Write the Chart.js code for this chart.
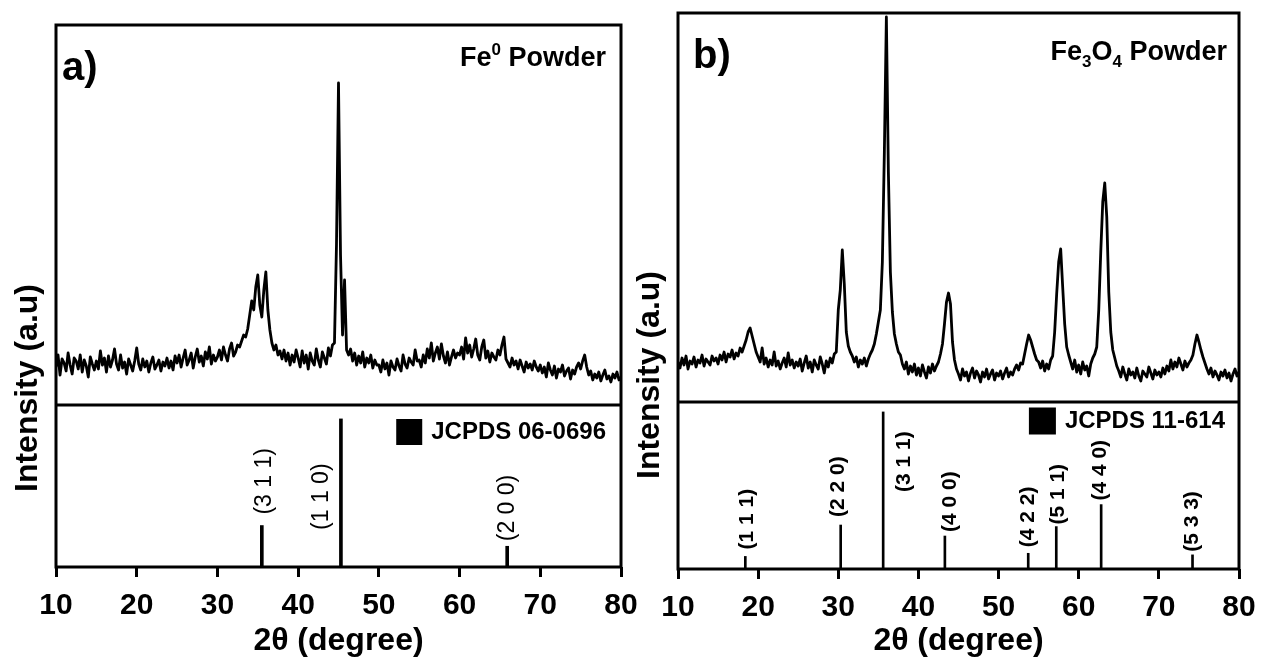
<!DOCTYPE html>
<html>
<head>
<meta charset="utf-8">
<title>XRD Fe0 and Fe3O4 powders</title>
<script src="https://cdn.jsdelivr.net/npm/chart.js@4.4.0/dist/chart.umd.min.js"></script>
<style>
  html, body { margin: 0; padding: 0; background: #fff; }
  body { width: 1262px; height: 657px; position: relative; overflow: hidden; }
  canvas { position: absolute; top: 0; }
  #chartA { left: 0; }
  #chartB { left: 620px; }
</style>
</head>
<body>
<canvas id="chartA" width="660" height="657"></canvas>
<canvas id="chartB" width="660" height="657"></canvas>
<script>
/* scan grid: 2theta from 10 to 80 deg, one reading every 0.25 deg */
let scanStart = 10
let scanStep = 0.25

let intensityFe = [
    38, 50, 30, 46, 42, 34, 52, 40, 31, 47, 44, 36, 50, 33, 45, 39, 28, 48, 41, 35,
    44, 36, 54, 40, 47, 33, 49, 38, 45, 56, 41, 35, 50, 37, 43, 31, 46, 40, 34, 44,
    57, 41, 35, 46, 38, 44, 33, 42, 48, 36, 40, 45, 34, 43, 39, 47, 37, 44, 35, 49,
    42, 50, 38, 47, 55, 40, 45, 52, 37, 48, 56, 43, 49, 39, 53, 46, 58, 41, 50, 44,
    48, 55, 45, 58, 50, 44, 56, 62, 49, 53, 60, 58, 64, 70, 68, 76, 90, 104, 95, 118,
    130, 100, 88, 115, 133, 95, 75, 62, 55, 60, 50, 54, 46, 55, 44, 52, 40, 50, 43, 55,
    47, 38, 54, 42, 50, 36, 52, 44, 40, 56, 45, 38, 53, 47, 41, 57, 49, 60, 62, 160,
    322, 150, 70, 125, 55, 50, 56, 44, 52, 40, 49, 42, 53, 38, 47, 42, 50, 37, 45, 40,
    40, 33, 45, 36, 42, 30, 44, 38, 35, 46, 39, 34, 50, 41, 37, 47, 43, 40, 55, 44,
    45, 38, 50, 42, 56, 47, 62, 44, 52, 58, 46, 61, 49, 42, 53, 40, 48, 55, 47, 52,
    50, 58, 46, 67, 52, 60, 48, 56, 66, 50, 45, 58, 65, 47, 54, 43, 52, 48, 45, 55,
    50, 60, 68, 46, 42, 38, 47, 40, 44, 36, 45, 39, 33, 43, 37, 41, 35, 44, 38, 34,
    40, 32, 38, 28, 42, 35, 30, 39, 27, 36, 33, 40, 29, 34, 37, 26, 35, 31, 38, 42,
    36, 44, 50, 38, 30, 34, 25, 31, 27, 33, 24, 30, 35, 26, 29, 23, 31, 27, 33, 25,
    28
]

/* measured pattern, Fe3O4 powder (a.u) */
let intensityMag = [
    40, 34, 44, 37, 46, 33, 41, 38, 45, 35, 42, 39, 47, 36, 43, 40, 37, 46, 41, 44,
    38, 47, 42, 50, 40, 48, 45, 52, 43, 49, 46, 54, 50, 56, 62, 70, 74, 66, 58, 50,
    45, 40, 54, 38, 44, 35, 42, 37, 50, 36, 41, 33, 39, 44, 35, 49, 37, 42, 34, 40,
    36, 43, 31, 39, 46, 34, 40, 30, 42, 37, 33, 45, 38, 29, 41, 35, 44, 39, 48, 50,
    92, 112, 152, 118, 70, 56, 50, 46, 40, 45, 35, 42, 38, 44, 36, 43, 48, 52, 58, 68,
    80, 92, 140, 250, 385, 230, 130, 90, 68, 58, 50, 47, 38, 33, 40, 28, 36, 30, 38, 27,
    34, 26, 37, 30, 24, 35, 29, 38, 31, 36, 40, 48, 58, 78, 100, 109, 98, 60, 42, 33,
    28, 22, 33, 26, 30, 21, 29, 34, 24, 31, 27, 20, 30, 25, 33, 23, 28, 32, 22, 29,
    26, 31, 23, 29, 34, 25, 30, 27, 33, 37, 32, 39, 38, 48, 58, 67, 62, 55, 48, 42,
    40, 34, 41, 31, 38, 33, 42, 46, 70, 108, 140, 153, 115, 78, 55, 47, 40, 33, 42, 30,
    37, 28, 40, 32, 36, 26, 38, 44, 48, 55, 92, 150, 200, 219, 185, 110, 70, 52, 44, 36,
    31, 25, 35, 28, 22, 33, 27, 30, 24, 34, 26, 21, 31, 28, 25, 35, 29, 23, 32, 27,
    30, 25, 34, 28, 36, 31, 42, 33, 40, 35, 44, 38, 32, 41, 35, 39, 42, 47, 58, 67,
    60, 52, 45, 39, 33, 28, 34, 25, 31, 27, 22, 30, 26, 32, 24, 29, 21, 28, 33, 26,
    30
]

/* reference cards */
let refPosFe = [35.5, 45.3, 65.9]
let refIntFe = [28, 100, 14]
let refHklFe = ['(3 1 1)', '(1 1 0)', '(2 0 0)']

let refPosMag = [18.4, 30.3, 35.6, 43.3, 53.7, 57.2, 62.8, 74.2]
let refIntMag = [8, 28, 100, 21, 10, 27, 41, 9]
let refHklMag = ['(1 1 1)', '(2 2 0)', '(3 1 1)', '(4 0 0)', '(4 2 2)', '(5 1 1)', '(4 4 0)', '(5 3 3)']

let xTicks = [10, 20, 30, 40, 50, 60, 70, 80]

let FONT = "'Liberation Sans', Arial, Helvetica, sans-serif"
Chart.defaults.font.family = FONT
Chart.defaults.color = '#000'


function toPoints(values) {
    return values.map((v, i) => ({ x: scanStart + i * scanStep, y: v }))
}

// title with sub / superscripts, drawn right aligned
function drawRich(ctx, parts, xRight, baseline) {
    let widths = parts.map(p => {
        ctx.font = 'bold ' + (p[1] ? 17 : 27) + 'px ' + FONT
        return ctx.measureText(p[0]).width
    })
    let x = xRight - widths.reduce((a, b) => a + b, 0)
    parts.forEach((p, i) => {
        ctx.font = 'bold ' + (p[1] ? 17 : 27) + 'px ' + FONT
        let dy = p[1] === 'sup' ? -11 : (p[1] === 'sub' ? 7 : 0)
        ctx.fillText(p[0], x, baseline + dy)
        x += widths[i]
    })
}

let decorPlugin = {
    id: 'decor',
    afterDraw(chart, args, o) {
        let ctx = chart.ctx
        let area = chart.chartArea
        let xs = chart.scales.x
        let yRef = chart.scales.yRef
        let divY = chart.scales.yTop.getPixelForValue(0)

        ctx.save()
        ctx.fillStyle = '#000'
        ctx.strokeStyle = '#000'

        // frame and divider
        ctx.lineWidth = 3
        ctx.strokeRect(area.left, area.top, area.right - area.left, area.bottom - area.top)
        ctx.beginPath()
        ctx.moveTo(area.left, divY)
        ctx.lineTo(area.right, divY)
        ctx.stroke()

        // panel letter
        ctx.textAlign = 'left'
        ctx.textBaseline = 'alphabetic'
        ctx.font = 'bold 40px ' + FONT
        ctx.fillText(o.letter, area.left + o.letterDx, area.top + 55)

        // sample name
        drawRich(ctx, o.title, area.right - o.titleDx, area.top + o.titleDy)

        // card legend
        ctx.font = 'bold 24px ' + FONT
        let lw = ctx.measureText(o.legend).width
        let lx = area.right - o.legendDx - lw
        let ly = divY + o.legendDy
        ctx.textBaseline = 'middle'
        ctx.fillText(o.legend, lx, ly)
        ctx.fillRect(lx - 9 - o.box, ly - o.box / 2, o.box, o.box)

        // hkl labels above the sticks
        ctx.font = o.hklFont + FONT
        ctx.textAlign = 'left'
        ctx.textBaseline = 'middle'
        o.hkl.forEach((label, i) => {
            let px = xs.getPixelForValue(o.pos[i]) + o.offsets[i][0]
            let py = yRef.getPixelForValue(o.ints[i]) - o.offsets[i][1]
            ctx.save()
            ctx.translate(px, py)
            ctx.rotate(-Math.PI / 2)
            ctx.fillText(label, 0, 0)
            ctx.restore()
        })

        // y axis title
        ctx.font = 'bold 32px ' + FONT
        ctx.textAlign = 'center'
        ctx.save()
        ctx.translate(area.left - 28, o.yTitleY)
        ctx.rotate(-Math.PI / 2)
        ctx.fillText('Intensity (a.u)', 0, 0)
        ctx.restore()

        ctx.restore()
    }
}


function makePanel(canvasId, pattern, pos, ints, stickWidth, pad, axisH, topRange, refMax, decor) {
    let ctx = document.getElementById(canvasId).getContext('2d')
    return new Chart(ctx, {
        type: 'line',
        data: {
            datasets: [
                {
                    data: toPoints(pattern),
                    yAxisID: 'yTop',
                    borderColor: '#000',
                    borderWidth: 2.8,
                    borderJoinStyle: 'round',
                    pointRadius: 0,
                    tension: 0
                },
                {
                    type: 'bar',
                    data: pos.map((p, i) => ({ x: p, y: ints[i] })),
                    yAxisID: 'yRef',
                    backgroundColor: '#000',
                    barThickness: stickWidth,
                    grouped: false
                }
            ]
        },
        options: {
            responsive: false,
            animation: false,
            events: [],
            layout: { padding: pad },
            plugins: {
                legend: { display: false },
                tooltip: { enabled: false },
                decor: decor
            },
            scales: {
                x: {
                    type: 'linear',
                    min: 10,
                    max: 80,
                    offset: false,
                    afterBuildTicks: s => { s.ticks = xTicks.map(v => ({ value: v })) },
                    afterFit: s => { s.height = axisH },
                    border: { display: false },
                    grid: {
                        display: true,
                        offset: false,
                        drawOnChartArea: false,
                        drawTicks: true,
                        tickLength: 10,
                        tickWidth: 3,
                        tickColor: '#000'
                    },
                    ticks: {
                        font: { size: 30, weight: 'bold' },
                        color: '#000',
                        padding: 11,
                        maxRotation: 0,
                        autoSkip: false
                    },
                    title: {
                        display: true,
                        text: '2θ (degree)',
                        font: { size: 32, weight: 'bold', lineHeight: 1 },
                        color: '#000',
                        padding: 0
                    }
                },
                yTop: { display: false, min: topRange[0], max: topRange[1] },
                yRef: { display: false, min: 0, max: refMax }
            }
        },
        plugins: [decorPlugin]
    })
}


makePanel('chartA', intensityFe, refPosFe, refIntFe, 3,
    { left: 56, top: 25, right: 39, bottom: 0 }, 90, [-162, 380], 366,
    {
        letter: 'a)', letterDx: 6,
        title: [['Fe', ''], ['0', 'sup'], [' Powder', '']], titleDx: 15, titleDy: 41,
        legend: 'JCPDS 06-0696', legendDx: 15, legendDy: 27, box: 26,
        hkl: refHklFe, pos: refPosFe, ints: refIntFe,
        offsets: [[3, 11], [-19, -111], [0, 5]],
        hklFont: '23px ',
        yTitleY: 388
    })

makePanel('chartB', intensityMag, refPosMag, refIntMag, 2,
    { left: 58, top: 13, right: 41, bottom: 0 }, 88, [-167, 389], 354,
    {
        letter: 'b)', letterDx: 15,
        title: [['Fe', ''], ['3', 'sub'], ['O', ''], ['4', 'sub'], [' Powder', '']], titleDx: 12, titleDy: 47,
        legend: 'JCPDS 11-614', legendDx: 14, legendDy: 19, box: 27,
        hkl: refHklMag, pos: refPosMag, ints: refIntMag,
        offsets: [[2, 7], [-2, 8], [21, -80], [5, 4], [0, 6], [2, 2], [-1, 4], [0, 3]],
        hklFont: 'bold 21px ',
        yTitleY: 375
    })
</script>
</body>
</html>
